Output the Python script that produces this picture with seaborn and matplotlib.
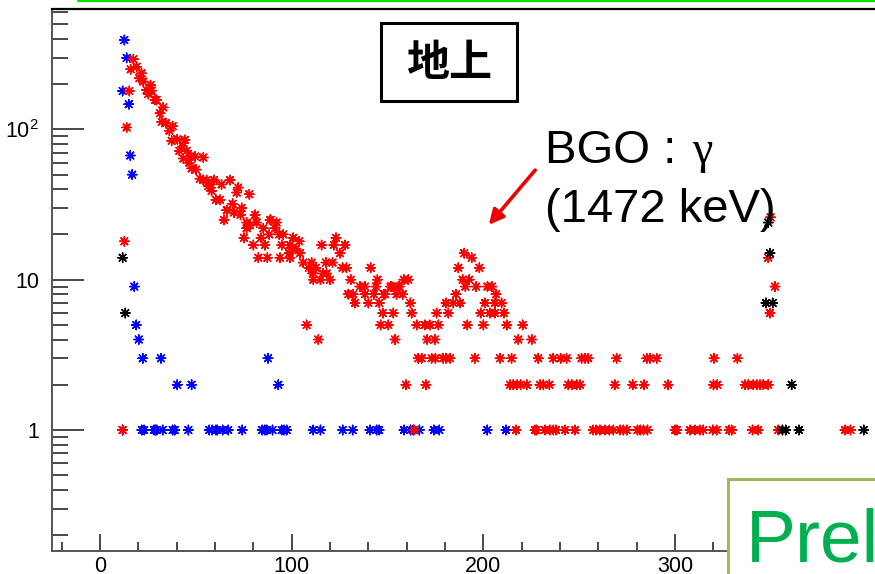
import numpy as np
import pandas as pd
import matplotlib
matplotlib.use("Agg")
import matplotlib.pyplot as plt
from matplotlib.patches import Rectangle, FancyArrowPatch
from matplotlib.lines import Line2D
from matplotlib.ticker import FixedLocator
import seaborn as sns

# ---- spectrum points: channel vs. counts ----
red_x = [11.8, 12.7, 13.9, 15.3, 16.0, 17.4, 19.1, 20.5, 21.7, 22.6, 24.3, 25.2, 26.4, 26.9,
         28.7, 29.5, 31.3, 32.2, 33.0, 34.4, 36.2, 37.4, 37.9, 40.3, 41.4, 43.1, 43.5, 44.3,
         45.2, 46.6, 46.9, 47.8, 49.6, 50.1, 52.2, 53.9, 53.9, 55.6, 56.5, 57.4, 58.2, 59.5,
         60.5, 62.6, 63.4, 64.7, 66.1, 66.4, 67.8, 69.2, 69.9, 71.3, 72.1, 73.3, 73.9, 75.1,
         76.5, 76.5, 77.9, 78.2, 80.0, 80.9, 81.7, 82.6, 84.0, 85.2, 86.0, 87.3, 88.3, 88.7,
         89.0, 91.3, 92.1, 93.5, 93.9, 94.8, 95.6, 98.7, 99.1, 99.1, 100.8, 102.2, 103.9,
         104.3, 106.0, 107.8, 109.0, 110.4, 111.0, 111.3, 112.6, 113.9, 115.0, 115.6, 116.4,
         117.9, 118.2, 120.0, 121.3, 122.0, 123.1, 125.2, 126.5, 127.8, 128.6, 129.5, 130.8,
         132.1, 133.0, 135.6, 138.2, 138.2, 140.0, 141.2, 142.9, 144.0, 144.7, 145.7, 146.4,
         147.5, 148.1, 148.7, 150.4, 151.6, 152.2, 153.0, 153.9, 154.7, 155.6, 156.1, 157.9,
         158.5, 159.6, 160.8, 161.9, 162.6, 163.8, 165.2, 166.0, 167.8, 169.5, 170.0, 170.7,
         172.1, 173.0, 174.7, 175.0, 175.6, 176.5, 179.0, 180.5, 180.5, 181.7, 182.6, 184.3,
         185.7, 186.9, 187.8, 189.2, 190.0, 190.6, 191.6, 192.6, 193.9, 195.6, 196.2, 197.9,
         198.6, 200.0, 200.8, 202.1, 203.4, 204.4, 206.0, 206.0, 206.6, 208.7, 209.5, 210.7,
         212.2, 213.9, 214.7, 215.6, 217.0, 217.6, 218.2, 219.4, 220.5, 222.6, 225.2, 226.9,
         227.8, 228.6, 229.5, 231.3, 232.1, 234.4, 234.7, 236.4, 236.5, 237.9, 240.3, 242.6,
         243.4, 244.3, 246.1, 247.8, 248.7, 250.4, 251.2, 253.0, 254.7, 257.3, 258.8, 260.8,
         263.4, 265.7, 267.8, 268.6, 269.5, 271.3, 273.0, 274.8, 277.9, 280.4, 281.8, 283.5,
         283.8, 285.2, 285.6, 286.9, 290.4, 296.3, 300.0, 300.9, 307.8, 310.4, 313.0, 314.7,
         319.6, 320.0, 320.3, 321.7, 322.0, 328.2, 329.5, 332.5, 336.5, 338.2, 340.4, 340.8,
         342.6, 343.3, 344.3, 346.0, 348.6, 349.8, 348.6, 352.1, 349.5, 353.8, 388.6, 391.5]
red_y = [1, 18, 103, 180, 251, 293, 261, 219, 236, 208, 183, 172, 197, 181,
         157, 157, 128, 112, 140, 110, 98, 84, 105, 86, 72, 77, 64, 85,
         72, 60, 66, 55, 66, 54, 47, 46, 65, 46, 42, 43, 39, 46,
         34, 34, 43, 25, 29, 29, 46, 32, 28, 38, 41, 27, 30, 19,
         24, 22, 37, 23, 17, 27, 24, 14, 19, 22, 17, 14, 20, 25,
         25, 22, 24, 20, 14, 17, 20, 15, 17, 14, 19, 16, 18,
         15, 13, 5, 12, 13, 11, 10, 12, 4, 10, 17, 11,
         13, 11, 10, 13, 17, 19, 15, 12, 17, 12, 8, 10,
         8, 7, 9, 9, 8, 7, 12, 8, 9, 10, 7, 5,
         6, 8, 8, 5, 9, 9, 6, 4, 8, 9, 9, 8,
         10, 2, 10, 7, 6, 1, 5, 3, 3, 5, 2, 4,
         5, 3, 4, 3, 6, 5, 3, 7, 3, 6, 3, 7,
         8, 12, 7, 10, 15, 9, 5, 10, 14, 3, 9, 12,
         6, 5, 7, 9, 6, 9, 6, 7, 8, 3, 7, 6,
         5, 2, 3, 2, 1, 2, 4, 2, 5, 2, 4, 1,
         1, 3, 2, 2, 1, 2, 1, 3, 1, 1, 3, 1,
         3, 2, 2, 1, 2, 2, 3, 3, 3, 1, 1, 1,
         1, 1, 1, 2, 3, 1, 1, 1, 2, 1, 1, 1,
         2, 3, 1, 3, 3, 2, 1, 1, 1, 1, 1, 1,
         1, 2, 3, 1, 2, 1, 1, 3, 2, 2, 1, 2,
         2, 1, 2, 2, 2, 26, 14, 9, 6, 1, 1, 1]

blue_x = [11.8, 12.7, 13.9, 15.0, 15.8, 16.8, 17.9, 18.9, 20.2, 22.3, 31.8, 87.6, 40.3, 47.8, 93.0,
          11.8, 21.8, 23.0, 28.2, 28.9, 29.6, 32.7, 37.9, 39.0, 46.1, 57.0, 58.4, 60.5, 61.2,
          64.0, 66.9, 74.2, 84.6, 86.0, 87.0, 90.0, 94.8, 96.0, 97.4, 111.2, 115.0, 126.6,
          131.8, 140.8, 144.3, 145.6, 158.6, 162.0, 163.4, 166.6, 174.2, 177.0, 202.0, 211.8]
blue_y = [180, 393, 299, 147, 67, 50, 9, 5, 4, 3, 3, 3, 2, 2, 2,
          1, 1, 1, 1, 1, 1, 1, 1, 1, 1, 1, 1, 1, 1,
          1, 1, 1, 1, 1, 1, 1, 1, 1, 1, 1, 1, 1,
          1, 1, 1, 1, 1, 1, 1, 1, 1, 1, 1, 1]

black_x = [11.8, 13.2, 348.6, 349.5, 347.4, 350.9, 356.0, 357.7, 360.8, 364.6, 398.4]
black_y = [14, 6, 24, 15, 7, 7, 1, 1, 2, 1, 1]

x_major = [0, 100, 200, 300]
y_major = [1, 10, 100]
y_major_labels = ["1", "10", r"$\mathregular{10^{2}}$"]

df = pd.concat([
    pd.DataFrame({"channel": blue_x, "counts": blue_y, "series": "blue"}),
    pd.DataFrame({"channel": red_x, "counts": red_y, "series": "red"}),
    pd.DataFrame({"channel": black_x, "counts": black_y, "series": "black"}),
], ignore_index=True)

sns.set_style("white")
plt.rcParams["font.family"] = ["Liberation Sans", "Noto Sans CJK JP", "DejaVu Sans"]
plt.rcParams["mathtext.fontset"] = "custom"
plt.rcParams["mathtext.rm"] = "Liberation Sans"
plt.rcParams["text.color"] = "black"

W, H = 875, 574
fig = plt.figure(figsize=(W / 100, H / 100), dpi=100)


def fx(px):
    return px / W


def fy(py):
    return 1 - py / H


# axes frame in pixel terms; the frame runs past the right edge of the canvas
PX_PER_UNIT = 1.917
X_ZERO_PX = 100
X0, X1 = -25, 420
Y0, Y1 = 0.1567, 632
left_px = X_ZERO_PX + X0 * PX_PER_UNIT
right_px = X_ZERO_PX + X1 * PX_PER_UNIT
top_px, bottom_px = 9, 551
ax = fig.add_axes([fx(left_px), fy(bottom_px), (right_px - left_px) / W, (bottom_px - top_px) / H])

sns.scatterplot(data=df, x="channel", y="counts", hue="series",
                palette={"blue": "#0000ff", "red": "#ff0000", "black": "#000000"},
                marker=(8, 2, 0), s=46, linewidth=1.05, legend=False, ax=ax, zorder=3)

ax.set_yscale("log")
ax.set_xlim(X0, X1)
ax.set_ylim(Y0, Y1)
ax.set_xlabel("")
ax.set_ylabel("")

ax.xaxis.set_major_locator(FixedLocator(x_major))
ax.xaxis.set_minor_locator(FixedLocator(np.arange(-20, 421, 20)))
ax.yaxis.set_major_locator(FixedLocator(y_major))
y_minor = [m * 10.0 ** e for e in (-1, 0, 1, 2) for m in range(2, 10)]
ax.yaxis.set_minor_locator(FixedLocator(y_minor))
ax.set_yticklabels(y_major_labels)
ax.yaxis.set_minor_formatter(plt.NullFormatter())

tick_col = "#3a3a3a"
ax.tick_params(axis="x", which="major", direction="in", length=12.2, width=1.3,
               pad=3.5, labelsize=15.5, color=tick_col, labelcolor="black",
               top=False, bottom=True)
ax.tick_params(axis="x", which="minor", direction="in", length=6.3, width=1.3,
               color=tick_col, top=False, bottom=True)
ax.tick_params(axis="y", which="major", direction="in", length=23, width=1.3,
               pad=9.5, labelsize=15.5, color=tick_col, labelcolor="black",
               right=False, left=True)
ax.tick_params(axis="y", which="minor", direction="in", length=11.5, width=1.3,
               color=tick_col, right=False, left=True)

for side in ("left", "bottom"):
    ax.spines[side].set_color("#555555")
    ax.spines[side].set_linewidth(1.4)
ax.spines["top"].set_color("black")
ax.spines["top"].set_linewidth(1.6)
ax.spines["right"].set_visible(False)

# thin green rule along the top edge
fig.add_artist(Line2D([fx(78), 1.0], [fy(0.7), fy(0.7)], color="#00e000", lw=1.6,
                      transform=fig.transFigure))

# boxed location label
fig.add_artist(Rectangle((fx(381), fy(101)), (517 - 381) / W, (101 - 23) / H,
                         transform=fig.transFigure, facecolor="white",
                         edgecolor="black", lw=2.2, zorder=5))
fig.text(fx(449), fy(63), "地上", ha="center", va="center", fontsize=31,
         family=["Noto Sans CJK JP"], weight="bold", color="black", zorder=6)

# peak annotation
fig.text(fx(545), fy(163), "BGO : ", ha="left", va="baseline", fontsize=34, color="black")
fig.text(fx(692), fy(163), "γ", ha="left", va="baseline", fontsize=33, color="black",
         family=["Liberation Serif", "DejaVu Serif"])
fig.text(fx(545), fy(222), "(1472 keV)", ha="left", va="baseline", fontsize=34, color="black")
fig.add_artist(FancyArrowPatch((fx(537), fy(168)), (fx(487), fy(227)),
                               transform=fig.transFigure, arrowstyle="-|>",
                               mutation_scale=22, color="#ee0000", lw=2.6))

# preliminary stamp, partly outside the canvas
fig.add_artist(Rectangle((fx(728), fy(620)), (960 - 728) / W, (620 - 479) / H,
                         transform=fig.transFigure, facecolor="white",
                         edgecolor="#9bbb59", lw=2.2, zorder=7))
fig.text(fx(746), fy(562), "Prel", ha="left", va="baseline", fontsize=54,
         color="#00b050", zorder=8)

fig.savefig("out.png", dpi=100)
